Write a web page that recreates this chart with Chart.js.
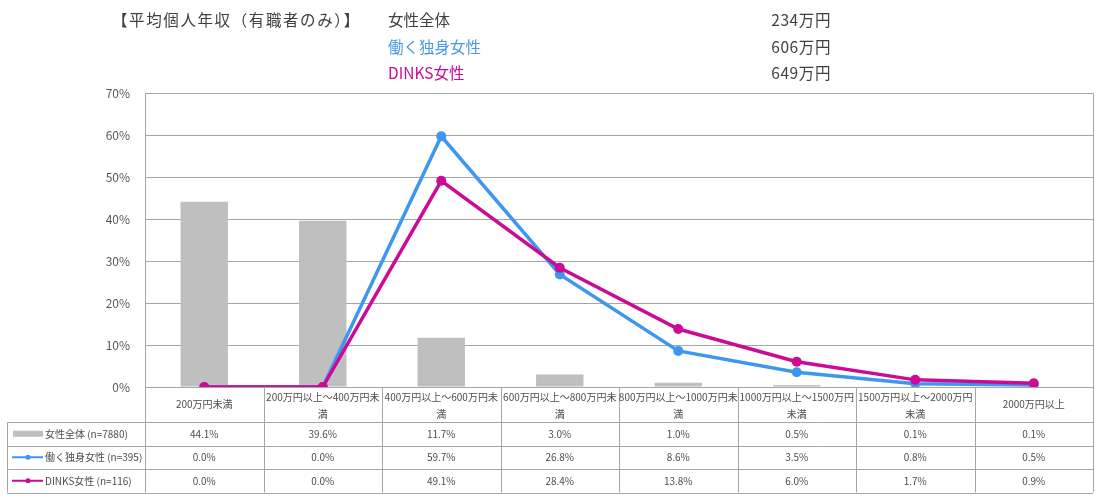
<!DOCTYPE html>
<html><head><meta charset="utf-8">
<script src="https://cdn.jsdelivr.net/npm/chart.js@4/dist/chart.umd.min.js"></script>
<style>
html,body{margin:0;padding:0;background:#fff;}
#wrap{position:relative;width:1100px;height:499px;font-family:"Noto Sans CJK JP","Noto Sans",sans-serif;}
#c{position:absolute;left:0;top:0;}
.h{position:absolute;font-size:15.5px;line-height:20px;white-space:nowrap;color:#404040;}
</style></head>
<body>
<div id="wrap">
<canvas id="c" width="1100" height="499"></canvas>
<div class="h" style="left:112px;top:9px;letter-spacing:1.6px;">【平均個人年収（有職者のみ）】</div>
<div id="hdr"></div>
</div>
<script>
const categories = [
  ["200万円未満"],
  ["200万円以上～400万円未","満"],
  ["400万円以上～600万円未","満"],
  ["600万円以上～800万円未","満"],
  ["800万円以上～1000万円未","満"],
  ["1000万円以上～1500万円","未満"],
  ["1500万円以上～2000万円","未満"],
  ["2000万円以上"]
];
const allWomen = [44.1, 39.6, 11.7, 3.0, 1.0, 0.5, 0.1, 0.1];
const singleWorking = [0.0, 0.0, 59.7, 26.8, 8.6, 3.5, 0.8, 0.5];
const dinks = [0.0, 0.0, 49.1, 28.4, 13.8, 6.0, 1.7, 0.9];
const seriesNames = ["女性全体 (n=7880)", "働く独身女性 (n=395)", "DINKS女性 (n=116)"];
const headerGroups = ["女性全体", "働く独身女性", "DINKS女性"];
const headerIncome = ["234万円", "606万円", "649万円"];
const yTicks = [0, 10, 20, 30, 40, 50, 60, 70];

const GRAY = "#bfbfbf", BLUE = "#3d97ef", MAG = "#cc0a96";
const headerColors = ["#404040", "#4a9be3", "#cc0a96"];

// header text
const hdr = document.getElementById('hdr');
headerGroups.forEach((g, i) => {
  const a = document.createElement('div');
  a.className = 'h'; a.style.left = '388px'; a.style.top = (9 + i * 26.5) + 'px';
  a.style.color = headerColors[i]; a.textContent = g; hdr.appendChild(a);
  const b = document.createElement('div');
  b.className = 'h'; b.style.right = (1100 - 831) + 'px'; b.style.top = (9 + i * 26.5) + 'px';
  b.style.letterSpacing = '0.6px';
  b.textContent = headerIncome[i]; hdr.appendChild(b);
});

const FONT = '"Noto Sans CJK JP","Noto Sans",sans-serif';
const tablePlugin = {
  id: 'tablePlugin',
  afterDraw(chart) {
    const ctx = chart.ctx, ca = chart.chartArea, xs = chart.scales.x;
    const step = xs.getPixelForValue(1) - xs.getPixelForValue(0);
    const lineCol = "#a6a6a6";
    ctx.save();
    // plot border
    ctx.strokeStyle = lineCol; ctx.lineWidth = 1;
    ctx.strokeRect(Math.round(ca.left) + 0.5, Math.round(ca.top) + 0.5, Math.round(ca.right - ca.left), Math.round(ca.bottom - ca.top));
    const top = Math.round(ca.bottom), catH = 35, rowH = 23.5, tLeft = 7;
    const rowsTop = top + catH, bottom = rowsTop + rowH * 3;
    ctx.beginPath();
    ctx.moveTo(ca.left, top + 0.5); ctx.lineTo(ca.right, top + 0.5);
    for (let r = 0; r <= 3; r++) {
      const y = Math.round(rowsTop + rowH * r) + 0.5;
      ctx.moveTo(tLeft, y); ctx.lineTo(ca.right, y);
    }
    for (let i = 0; i <= categories.length; i++) {
      const x = Math.round(xs.getPixelForValue(i) - step / 2) + 0.5;
      ctx.moveTo(x, top); ctx.lineTo(x, bottom);
    }
    ctx.moveTo(tLeft + 0.5, rowsTop); ctx.lineTo(tLeft + 0.5, bottom);
    ctx.stroke();
    // category labels
    ctx.fillStyle = "#4d4d4d"; ctx.font = '10px ' + FONT;
    ctx.textAlign = 'center'; ctx.textBaseline = 'middle';
    categories.forEach((lab, i) => {
      const cx = xs.getPixelForValue(i);
      if (lab.length === 1) ctx.fillText(lab[0], cx, top + catH / 2);
      else { ctx.fillText(lab[0], cx, top + 10); ctx.fillText(lab[1], cx, top + 27); }
    });
    // values
    const data = [allWomen, singleWorking, dinks];
    data.forEach((arr, r) => {
      const cy = rowsTop + rowH * r + rowH / 2;
      arr.forEach((v, i) => ctx.fillText(v.toFixed(1) + '%', xs.getPixelForValue(i), cy));
    });
    // legend keys
    ctx.textAlign = 'left';
    const cols = [GRAY, BLUE, MAG];
    seriesNames.forEach((n, r) => {
      const cy = rowsTop + rowH * r + rowH / 2;
      if (r === 0) { ctx.fillStyle = GRAY; ctx.fillRect(13, cy - 3, 30, 6); }
      else {
        ctx.strokeStyle = cols[r]; ctx.lineWidth = 2;
        ctx.beginPath(); ctx.moveTo(12, cy); ctx.lineTo(43, cy); ctx.stroke();
        ctx.fillStyle = cols[r]; ctx.beginPath(); ctx.arc(28, cy, 2.5, 0, Math.PI * 2); ctx.fill();
      }
      ctx.fillStyle = "#4d4d4d";
      ctx.fillText(n, 45, cy);
    });
    ctx.restore();
  }
};

new Chart(document.getElementById('c'), {
  data: {
    labels: categories,
    datasets: [
      { type: 'line', label: seriesNames[2], data: dinks, borderColor: MAG, backgroundColor: MAG,
        borderWidth: 3.5, pointRadius: 5, pointBackgroundColor: MAG, pointBorderWidth: 0, tension: 0, order: 1 },
      { type: 'line', label: seriesNames[1], data: singleWorking, borderColor: BLUE, backgroundColor: BLUE,
        borderWidth: 3.5, pointRadius: 5, pointBackgroundColor: BLUE, pointBorderWidth: 0, tension: 0, order: 2 },
      { type: 'bar', label: seriesNames[0], data: allWomen, backgroundColor: GRAY,
        barPercentage: 0.4, categoryPercentage: 1.0, order: 3 }
    ]
  },
  options: {
    responsive: false, animation: false, devicePixelRatio: 1,
    layout: { padding: { left: 0, right: 7, top: 93, bottom: 112 } },
    plugins: { legend: { display: false }, tooltip: { enabled: false } },
    scales: {
      x: { display: false, offset: true },
      y: {
        min: 0, max: 70,
        afterFit(s) { s.width = 145; },
        afterBuildTicks(s) { s.ticks = yTicks.map(v => ({ value: v })); },
        grid: { color: "#a6a6a6", drawTicks: false },
        border: { display: false },
        ticks: { padding: 15, color: "#595959", font: { family: FONT, size: 12 }, callback: v => v + '%' }
      }
    }
  },
  plugins: [tablePlugin]
});
</script>
</body></html>
